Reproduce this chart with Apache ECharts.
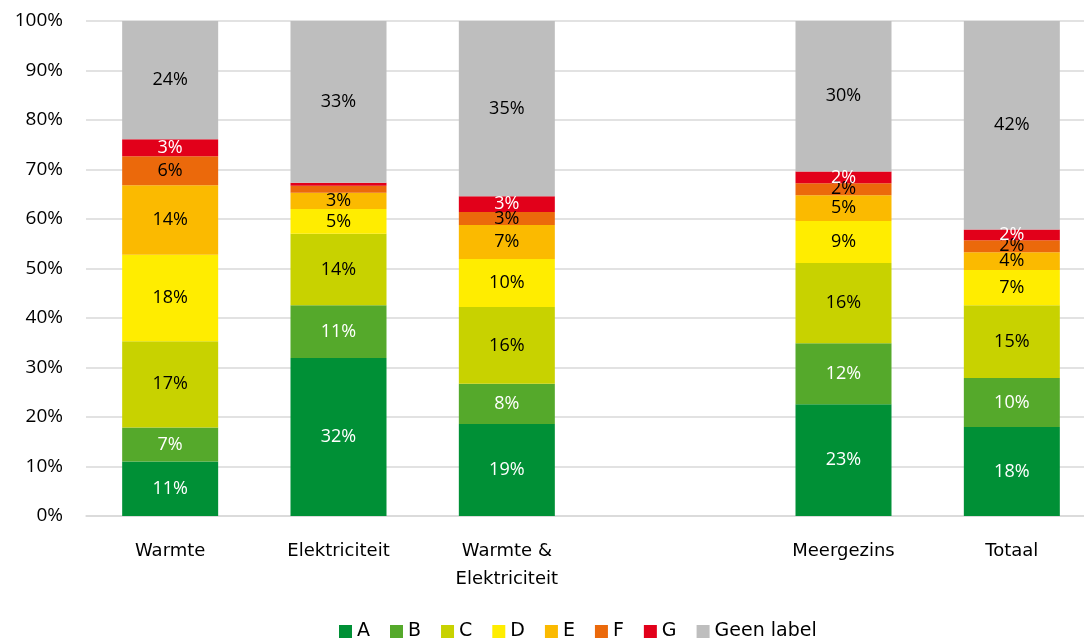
<!DOCTYPE html>
<html>
<head>
<meta charset="utf-8">
<script src="https://cdn.jsdelivr.net/npm/echarts@6/dist/echarts.min.js"></script>
<style>
  html, body { margin: 0; padding: 0; background: #fff; overflow: hidden; }
  #chart { width: 1096px; height: 641px; }
</style>
</head>
<body>
<div id="chart"></div>
<script>
// categorieën (lege plek tussen woningtypes en meergezins)
var categories = ['Warmte', 'Elektriciteit', 'Warmte &\nElektriciteit', '', 'Meergezins', 'Totaal'];
var labelNames = ['A', 'B', 'C', 'D', 'E', 'F', 'G', 'Geen label'];
var labelColors = ['#009036', '#55A92B', '#C8D200', '#FFED00', '#FBBA00', '#EB690B', '#E2001A', '#BEBEBE'];
var textColors = ['#fff', '#fff', '#000', '#000', '#000', '#000', '#fff', '#000'];

// aandelen in %
var dataA    = [11.0, 31.9, 18.6, null, 22.6, 18.0];
var dataB    = [6.9, 10.7, 8.1, null, 12.3, 9.9];
var dataC    = [17.4, 14.4, 15.5, null, 16.2, 14.7];
var dataD    = [17.5, 5.0, 9.7, null, 8.5, 7.1];
var dataE    = [14.0, 3.3, 6.9, null, 5.2, 3.6];
var dataF    = [5.9, 1.4, 2.6, null, 2.4, 2.4];
var dataG    = [3.4, 0.6, 3.2, null, 2.4, 2.2];
var dataGeen = [23.9, 32.7, 35.4, null, 30.4, 42.1];
var allData = [dataA, dataB, dataC, dataD, dataE, dataF, dataG, dataGeen];

var font = 'Open Sans, Liberation Sans, sans-serif';
var wideFont = 'DejaVu Sans, sans-serif';

var chart = echarts.init(document.getElementById('chart'));
var series = labelNames.map(function (n, i) {
  return {
    name: n,
    type: 'bar',
    stack: 'tot',
    barWidth: 96,
    itemStyle: { color: labelColors[i] },
    label: {
      show: true,
      position: 'inside',
      color: textColors[i],
      fontSize: 18,
      fontFamily: font,
      formatter: function (p) {
        if (p.value == null || p.value < 1.5) return '';
        return Math.round(p.value) + '%';
      }
    },
    data: allData[i]
  };
});

chart.setOption({
  animation: false,
  textStyle: { fontFamily: font },
  grid: { left: 86, right: 0, top: 21, bottom: 125 },
  legend: {
    bottom: -5,
    left: 334,
    itemWidth: 13,
    itemHeight: 13,
    itemGap: 20,
    icon: 'rect',
    textStyle: { fontSize: 19, color: '#000', fontFamily: wideFont },
    data: labelNames
  },
  xAxis: {
    type: 'category',
    data: categories,
    axisLine: { lineStyle: { color: '#D9D9D9', width: 1.5 } },
    axisTick: { show: false },
    axisLabel: { fontSize: 18, color: '#000', margin: 21, lineHeight: 28, fontFamily: wideFont }
  },
  yAxis: {
    type: 'value',
    min: 0,
    max: 100,
    interval: 10,
    axisLine: { show: false },
    axisTick: { show: false },
    splitLine: { lineStyle: { color: '#D9D9D9', width: 1.5 } },
    axisLabel: { fontSize: 19, color: '#000', margin: 23, formatter: '{value}%', fontFamily: font }
  },
  series: series
});
</script>
</body>
</html>
